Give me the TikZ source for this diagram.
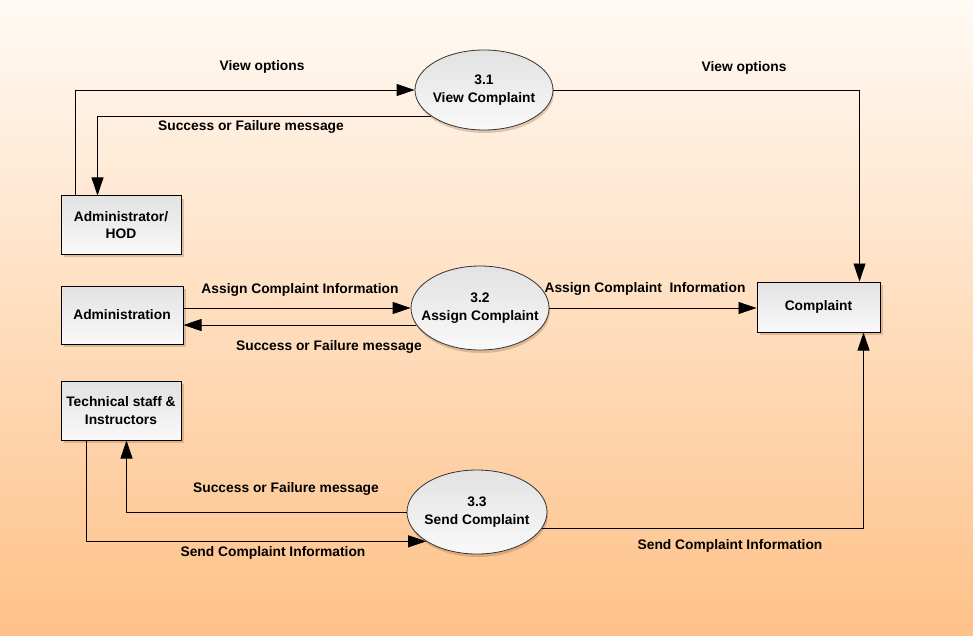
\documentclass[tikz,border=0pt]{standalone}
\usepackage{fontspec}
\setmainfont{Liberation Sans}
\usetikzlibrary{arrows.meta,shapes.geometric,shadows}
\definecolor{bgtop}{RGB}{255,250,244}
\definecolor{bgbot}{RGB}{254,193,136}
\definecolor{shtop}{RGB}{226,226,226}
\definecolor{shbot}{RGB}{249,249,249}
\definecolor{shadowc}{RGB}{150,100,60}
\newcommand{\zb}[1]{\makebox[0pt]{#1}}
\begin{document}
\begin{tikzpicture}[x=1pt,y=-1pt,
  every node/.style={font=\fontsize{13.8}{17.5}\selectfont\bfseries},
  proc/.style={ellipse,draw=black!80,line width=0.8pt,top color=shtop,bottom color=shbot,
    align=center,inner sep=0pt,
    drop shadow={shadow xshift=1pt,shadow yshift=-3pt,opacity=0.3,fill=shadowc}},
  ent/.style={rectangle,draw=black,line width=1pt,top color=shtop,bottom color=shbot,
    align=center,inner sep=0pt,
    drop shadow={shadow xshift=3pt,shadow yshift=-3pt,opacity=0.3,fill=shadowc}},
  arr/.style={draw=black,line width=0.8pt,-{Triangle[length=18pt,width=12pt]}},
  lbl/.style={inner sep=0pt}]
\shade[top color=bgtop,bottom color=bgbot] (0,0) rectangle (973,636);
\useasboundingbox (0,0) rectangle (973,636);

\node[proc,minimum width=138pt,minimum height=80pt] (e31) at (484,90) {\zb{3.1}\\\zb{View Complaint}};
\node[proc,minimum width=138pt,minimum height=84pt] (e32) at (480,308) {\zb{3.2}\\\zb{Assign Complaint}};
\node[proc,minimum width=140pt,minimum height=84pt] (e33) at (477,512) {\zb{3.3}\\\zb{Send Complaint}};

\node[ent,minimum width=120pt,minimum height=58pt] (hod) at (121,225) {Administrator/\\HOD};
\node[ent,minimum width=122pt,minimum height=58pt] (adm) at (122,315) {Administration};
\node[ent,minimum width=120pt,minimum height=59pt] (tech) at (121,410.5) {Technical staff \&\\Instructors};
\node[ent,minimum width=123pt,minimum height=50pt] (comp) at (818.5,307) {Complaint};

\draw[arr] ([xshift=15pt]hod.north west) |- (e31.west);
\draw[arr] (e31.206) -| ([xshift=37pt]hod.north west);
\draw[arr] (e31.east) -| ([xshift=103pt]comp.north west);
\draw[arr] (adm.east |- e32.west) -- (e32.west);
\draw[arr] (e32.195) -- (adm.east |- e32.195);
\draw[arr] (e32.east) -- (comp.west |- e32.east);
\draw[arr] (e33.west) -| ([xshift=66pt]tech.south west);
\draw[arr] ([xshift=26pt]tech.south west) |- (e33.210);
\draw[arr] (e33.346) -| ([xshift=107pt]comp.south west);

\node[lbl] (l1) at (262,67) {View options};
\node[lbl] (l2) at (251,127) {Success or Failure message};
\node[lbl] (l3) at (744,68) {View options};
\node[lbl] (l4) at (300,290) {Assign Complaint Information};
\node[lbl] (l5) at (329,347) {Success or Failure message};
\node[lbl] (l6) at (645,289) {Assign Complaint\ \ Information};
\node[lbl] (l7) at (286,489) {Success or Failure message};
\node[lbl] (l8) at (273,553) {Send Complaint Information};
\node[lbl] (l9) at (730,546) {Send Complaint Information};
\end{tikzpicture}
\end{document}
